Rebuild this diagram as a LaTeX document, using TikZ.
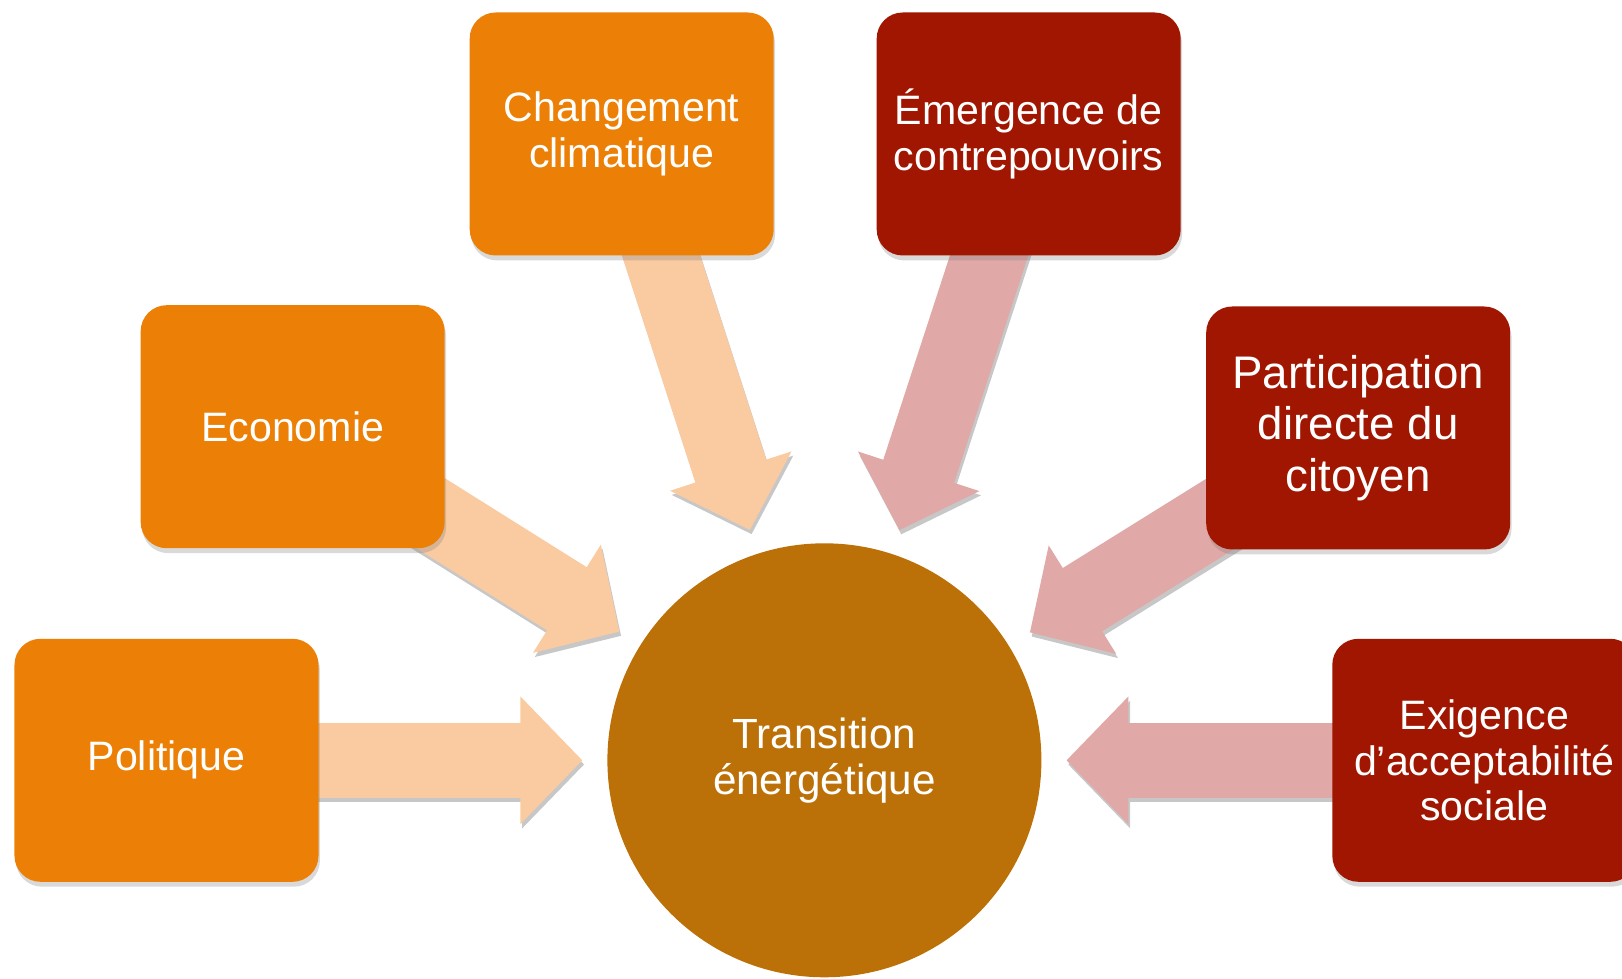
\documentclass[tikz,border=0pt]{standalone}
\usepackage{fontspec}
\setmainfont{Liberation Sans}
\usetikzlibrary{calc,arrows.meta,shadows,backgrounds}

\definecolor{boxorange}{RGB}{236,128,6}
\definecolor{boxred}{RGB}{160,22,0}
\definecolor{circbrown}{RGB}{188,112,8}
\definecolor{arrorange}{RGB}{250,203,161}
\definecolor{arrred}{RGB}{224,168,166}

\tikzset{
  box/.style={rectangle, rounded corners=0.26cm, minimum width=3.04cm, minimum height=2.43cm,
    inner sep=0pt, text=white, align=center, font=\fontsize{11.7}{13}\selectfont,
    drop shadow={shadow xshift=0.4pt, shadow yshift=-1.4pt, opacity=0.3}},
  orangebox/.style={box, fill=boxorange},
  redbox/.style={box, fill=boxred},
  fat/.style={line width=0.745cm, -{Triangle[length=0.62cm, width=1.24cm]}},
  fatshadow/.style={fat, black!22, transform canvas={shift={(0.5pt,-1.2pt)}}}
}

\begin{document}
\begin{tikzpicture}
\useasboundingbox (0,0) rectangle (16.22,9.78);

\node[circle, fill=circbrown, minimum size=4.34cm, inner sep=0pt, text=white, align=center,
  font=\fontsize{12}{13.2}\selectfont] (trans) at (8.244,2.177) {Transition\\énergétique};

\node[orangebox] (pol) at (1.665,2.177) {Politique};
\node[orangebox] (eco) at (2.927,5.513) {Economie};
\node[orangebox] (cha) at (6.217,8.44) {Changement\\climatique};
\node[redbox] (eme) at (10.287,8.44) {Émergence de\\contrepouvoirs};
\node[redbox, font=\fontsize{13}{14.7}\selectfont] (par) at (13.582,5.5) {Participation\\directe du\\citoyen};
\node[redbox] (exi) at (14.843,2.177) {Exigence\\d’acceptabilité\\sociale};

\begin{pgfonlayer}{background}
\foreach \from/\col in {pol/arrorange, eco/arrorange, cha/arrorange, eme/arrred, par/arrred, exi/arrred}{
  \draw[fatshadow] (\from.center) -- ($(trans)!2.42cm!(\from)$);
  \draw[fat, \col] (\from.center) -- ($(trans)!2.42cm!(\from)$);
}
\end{pgfonlayer}
\end{tikzpicture}
\end{document}
